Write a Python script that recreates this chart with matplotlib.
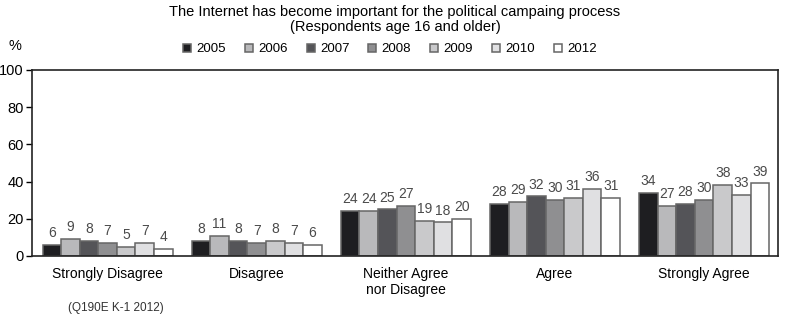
import numpy as np
import matplotlib.pyplot as plt

plt.rcParams['font.family'] = ['Liberation Sans', 'DejaVu Sans']

categories = ['Strongly Disagree', 'Disagree', 'Neither Agree\nnor Disagree', 'Agree', 'Strongly Agree']
years = ['2005', '2006', '2007', '2008', '2009', '2010', '2012']
v2005 = [6, 8, 24, 28, 34]
v2006 = [9, 11, 24, 29, 27]
v2007 = [8, 8, 25, 32, 28]
v2008 = [7, 7, 27, 30, 30]
v2009 = [5, 8, 19, 31, 38]
v2010 = [7, 7, 18, 36, 33]
v2012 = [4, 6, 20, 31, 39]
series = [v2005, v2006, v2007, v2008, v2009, v2010, v2012]
colors = ['#1e1e21', '#b9b9bb', '#545458', '#8f8f91', '#c9c9cb', '#e0e0e2', '#ffffff']

fig = plt.figure(figsize=(7.9, 3.22), dpi=100)
ax = fig.add_axes([0.0405, 0.205, 0.944, 0.578])

# seven bars per answer group, one per survey year
x = np.arange(len(categories))
w = 0.1246
for i, (vals, c) in enumerate(zip(series, colors)):
    pos = x + (i - 3) * w
    ax.bar(pos, vals, width=w, color=c, edgecolor='#666666', linewidth=1.1, label=years[i])
    for px, v in zip(pos, vals):
        ax.annotate(str(v), (px, v), xytext=(0, 3.5), textcoords='offset points',
                    ha='center', va='bottom', fontsize=10, color='#4a4a4a')

ax.set_xlim(-0.507, 4.494)
ax.set_ylim(0, 100)
ax.set_yticks([0, 20, 40, 60, 80, 100])
ax.tick_params(axis='y', labelsize=10.5, length=4, width=1, direction='out', pad=2)
ax.set_xticks(x)
ax.set_xticklabels(categories, fontsize=10)
ax.tick_params(axis='x', length=0, pad=8)
for s in ax.spines.values():
    s.set_linewidth(1.2)
    s.set_color('#222222')

fig.text(0.019, 0.835, '%', fontsize=10.5, ha='center', va='bottom')
fig.text(0.5, 0.985, 'The Internet has become important for the political campaing process\n(Respondents age 16 and older)',
         ha='center', va='top', fontsize=10.5, linespacing=1.15)
fig.text(0.086, 0.045, '(Q190E K-1 2012)', fontsize=8.5, color='#333333', va='center')

ax.legend(loc='center', bbox_to_anchor=(0.48, 1.11), ncol=7, frameon=False, fontsize=9.5,
          handlelength=0.6, handleheight=0.6, handletextpad=0.4, columnspacing=1.45,
          borderaxespad=0)

fig.savefig('out.png', dpi=100)
